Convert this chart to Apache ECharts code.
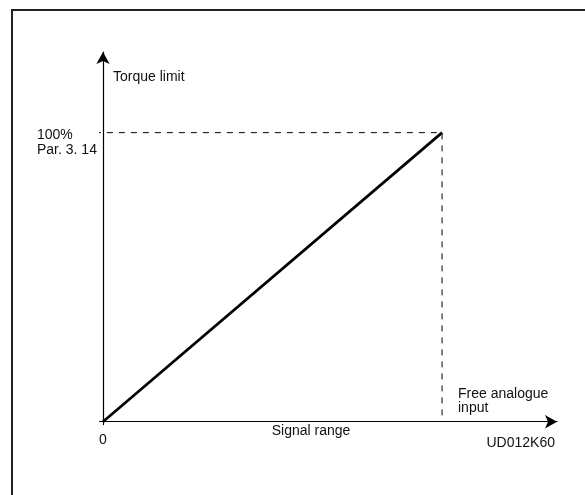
<!DOCTYPE html>
<html>
<head>
<meta charset="utf-8">
<script src="https://cdn.jsdelivr.net/npm/echarts@6/dist/echarts.min.js"></script>
<style>html,body{margin:0;padding:0;background:#fff}#c{width:585px;height:495px}</style>
</head>
<body>
<div id="c"></div>
<script>
// Data
const signalValues = [0, 100];          // signal range (% of free analogue input)
const torqueValues = [0, 100];          // torque limit (% of Par. 3.14)
const refX = [-2.4, 100, 100];          // dashed reference lines
const refY = [100, 100, 0];
const yTickLabels = ['100%\nPar. 3. 14'];
const xTickValues = [0];
const xTickLabels = ['0'];
const yAxisTitle = 'Torque limit';
const xAxisTitle = 'Signal range';
const xEndLabel = 'Free analogue\ninput';
const figureCode = 'UD012K60';

const FONT = '"Liberation Sans", Arial, Helvetica, sans-serif';
const chart = echarts.init(document.getElementById('c'), null, {renderer: 'canvas'});

const mainLine = signalValues.map((v, i) => [v, torqueValues[i]]);
const dashLine = refX.map((v, i) => [v, refY[i]]);

chart.setOption({
  animation: false,
  backgroundColor: '#fff',
  grid: {left: 99.6, right: 28, top: 52, bottom: 70.4},
  xAxis: {
    type: 'value', min: -1, max: 133.9,
    splitLine: {show: false},
    axisTick: {show: false},
    axisLine: {show: true, onZero: true, symbol: ['none', 'arrow'], symbolSize: [10, 12],
      lineStyle: {color: '#000', width: 1.2}},
    axisLabel: {
      customValues: xTickValues, margin: 9, color: '#111', fontSize: 14, fontFamily: FONT,
      formatter: v => xTickLabels[xTickValues.indexOf(v)] || ''
    }
  },
  yAxis: {
    type: 'value', min: -1, max: 127.9,
    splitLine: {show: false},
    axisTick: {show: false},
    axisLabel: {show: false},
    axisLine: {show: true, onZero: true, symbol: ['none', 'arrow'], symbolSize: [10, 12],
      lineStyle: {color: '#000', width: 1.2}}
  },
  series: [
    {
      type: 'line', data: dashLine, symbol: 'none', clip: false,
      lineStyle: {color: '#000', width: 1, type: [6, 6]}, z: 2
    },
    {
      type: 'line', data: mainLine, symbol: 'none',
      lineStyle: {color: '#000', width: 2.7}, z: 3
    }
  ],
  graphic: [
    {type: 'rect', shape: {x: 12, y: 10, width: 620, height: 520}, style: {fill: 'none', stroke: '#222', lineWidth: 2}, silent: true},
    {type: 'text', x: 37, y: 127.5, style: {text: yTickLabels[0], font: '14px ' + FONT, fill: '#111', lineHeight: 15, textVerticalAlign: 'top'}},
    {type: 'text', x: 113, y: 77, style: {text: yAxisTitle, font: '14px ' + FONT, fill: '#111', textVerticalAlign: 'middle'}},
    {type: 'text', x: 311, y: 431, style: {text: xAxisTitle, font: '14px ' + FONT, fill: '#111', textAlign: 'center', textVerticalAlign: 'middle'}},
    {type: 'text', x: 458, y: 401, style: {text: xEndLabel, font: '14px ' + FONT, fill: '#111', lineHeight: 14.5, textVerticalAlign: 'middle'}},
    {type: 'text', x: 555, y: 443, style: {text: figureCode, font: '14px ' + FONT, fill: '#111', textAlign: 'right', textVerticalAlign: 'middle'}}
  ]
});
</script>
</body>
</html>
